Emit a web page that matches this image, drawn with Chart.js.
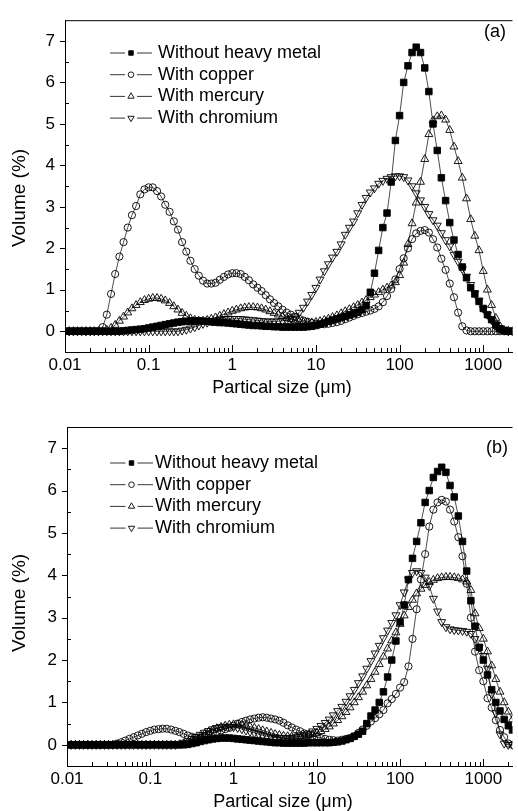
<!DOCTYPE html>
<html>
<head>
<meta charset="utf-8">
<script src="https://cdn.jsdelivr.net/npm/chart.js"></script>
<style>
  html, body { margin: 0; padding: 0; background: #fff; }
  canvas { display: block; }
</style>
</head>
<body>
<canvas id="panelA" width="518" height="405"></canvas>
<canvas id="panelB" width="518" height="406"></canvas>
<script>
// particle size classes (um), shared by every series
const sizes = [
  0.01, 0.0112, 0.0126, 0.0141, 0.0158, 0.0178, 0.02, 0.0224, 0.0251, 0.0282,
  0.0316, 0.0355, 0.0398, 0.0447, 0.0501, 0.0562, 0.0631, 0.0708, 0.0794, 0.0891,
  0.1, 0.112, 0.126, 0.141, 0.158, 0.178, 0.2, 0.224, 0.251, 0.282,
  0.316, 0.355, 0.398, 0.447, 0.501, 0.562, 0.631, 0.708, 0.794, 0.891,
  1, 1.12, 1.26, 1.41, 1.58, 1.78, 2, 2.24, 2.51, 2.82,
  3.16, 3.55, 3.98, 4.47, 5.01, 5.62, 6.31, 7.08, 7.94, 8.91,
  10, 11.2, 12.6, 14.1, 15.8, 17.8, 20, 22.4, 25.1, 28.2,
  31.6, 35.5, 39.8, 44.7, 50.1, 56.2, 63.1, 70.8, 79.4, 89.1,
  100, 112, 126, 141, 158, 178, 200, 224, 251, 282,
  316, 355, 398, 447, 501, 562, 631, 708, 794, 891,
  1000, 1122, 1259, 1413, 1585, 1778, 1995, 2239
];

const seriesNames = ['Without heavy metal', 'With copper', 'With mercury', 'With chromium'];

// panel (a)
const aWithout = [
  0, 0, 0, 0, 0, 0, 0, 0, 0, 0,
  0, 0, 0, 0, 0.01, 0.02, 0.03, 0.04, 0.05, 0.06,
  0.08, 0.1, 0.12, 0.14, 0.16, 0.18, 0.2, 0.22, 0.23, 0.24,
  0.25, 0.25, 0.25, 0.24, 0.24, 0.23, 0.22, 0.21, 0.21, 0.2,
  0.19, 0.18, 0.17, 0.16, 0.15, 0.14, 0.14, 0.13, 0.12, 0.12,
  0.11, 0.11, 0.1, 0.1, 0.1, 0.1, 0.1, 0.1, 0.11, 0.12,
  0.14, 0.17, 0.2, 0.24, 0.27, 0.3, 0.33, 0.36, 0.39, 0.42,
  0.46, 0.52, 0.62, 0.94, 1.4, 1.95, 2.5, 2.85, 3.6, 4.6,
  5.2, 6.0, 6.4, 6.72, 6.85, 6.72, 6.35, 5.78, 5.0, 4.36,
  3.7, 3.15, 2.62, 2.2, 1.85, 1.55, 1.29, 1.05, 0.9, 0.72,
  0.55, 0.4, 0.28, 0.15, 0.06, 0.02, 0, 0
];
const aCopper = [
  0, 0, 0, 0, 0, 0, 0, 0, 0, 0.1,
  0.4, 0.9, 1.38, 1.8, 2.15, 2.5, 2.8, 3.02, 3.3, 3.42,
  3.47, 3.47, 3.38, 3.25, 3.05, 2.88, 2.65, 2.45, 2.15, 1.92,
  1.7, 1.5, 1.34, 1.22, 1.15, 1.15, 1.17, 1.24, 1.31, 1.37,
  1.4, 1.4, 1.38, 1.31, 1.23, 1.13, 1.05, 0.97, 0.87, 0.77,
  0.68, 0.6, 0.52, 0.45, 0.4, 0.35, 0.3, 0.26, 0.23, 0.2,
  0.18, 0.17, 0.17, 0.18, 0.2, 0.22, 0.25, 0.29, 0.33, 0.37,
  0.41, 0.44, 0.47, 0.5, 0.54, 0.6, 0.7, 0.85, 1.02, 1.25,
  1.5, 1.76, 2.0, 2.22, 2.36, 2.42, 2.44, 2.38, 2.22, 2.02,
  1.75, 1.48, 1.15, 0.82, 0.45, 0.12, 0.02, 0, 0, 0,
  0, 0, 0, 0, 0, 0, 0, 0
];
const aMercury = [
  0, 0, 0, 0, 0, 0, 0, 0, 0, 0,
  0.03, 0.08, 0.15, 0.25, 0.35, 0.45, 0.55, 0.63, 0.7, 0.75,
  0.78, 0.8, 0.8, 0.78, 0.74, 0.68, 0.6, 0.52, 0.44, 0.37,
  0.31, 0.27, 0.25, 0.25, 0.27, 0.3, 0.33, 0.37, 0.41, 0.45,
  0.49, 0.52, 0.55, 0.57, 0.58, 0.58, 0.57, 0.55, 0.52, 0.48,
  0.44, 0.4, 0.36, 0.32, 0.29, 0.26, 0.24, 0.22, 0.21, 0.21,
  0.22, 0.24, 0.27, 0.3, 0.34, 0.38, 0.43, 0.48, 0.53, 0.58,
  0.63, 0.69, 0.75, 0.82, 0.88, 0.94, 1.0, 1.05, 1.1, 1.18,
  1.35, 1.65, 2.1, 2.6, 3.1, 3.6, 4.15, 4.75, 5.08, 5.18,
  5.2, 5.1, 4.85, 4.45, 4.1, 3.7, 3.2, 2.7, 2.3, 1.95,
  1.45, 1.0, 0.63, 0.32, 0.12, 0.03, 0.01, 0
];
const aChromium = [
  0, 0, 0, 0, 0, 0, 0, 0, 0, 0,
  0, 0, 0, 0, 0, 0, 0, 0, 0, 0,
  0, 0, 0, 0, 0, 0, 0, 0, 0.02, 0.04,
  0.07, 0.1, 0.14, 0.18, 0.21, 0.24, 0.26, 0.28, 0.29, 0.3,
  0.3, 0.3, 0.3, 0.29, 0.28, 0.27, 0.26, 0.25, 0.24, 0.24,
  0.24, 0.24, 0.25, 0.27, 0.3, 0.36, 0.45, 0.57, 0.72, 0.88,
  1.05, 1.25, 1.45, 1.62, 1.78, 1.92, 2.1, 2.33, 2.5, 2.65,
  2.85, 3.05, 3.22, 3.35, 3.45, 3.56, 3.63, 3.68, 3.72, 3.74,
  3.74, 3.72, 3.64, 3.5, 3.33, 3.16, 3.0, 2.83, 2.68, 2.55,
  2.37, 2.2, 2.05, 1.85, 1.68, 1.5, 1.32, 1.12, 0.92, 0.74,
  0.55, 0.4, 0.27, 0.14, 0.05, 0.02, 0, 0
];

// panel (b)
const bWithout = [
  0, 0, 0, 0, 0, 0, 0, 0, 0, 0,
  0, 0, 0, 0, 0, 0, 0, 0, 0, 0,
  0, 0, 0, 0, 0, 0, 0, 0, 0, 0.01,
  0.03, 0.05, 0.08, 0.1, 0.12, 0.14, 0.15, 0.16, 0.16, 0.16,
  0.15, 0.14, 0.13, 0.12, 0.11, 0.1, 0.09, 0.08, 0.07, 0.06,
  0.05, 0.05, 0.04, 0.04, 0.04, 0.04, 0.04, 0.04, 0.05, 0.05,
  0.05, 0.05, 0.05, 0.05, 0.06, 0.07, 0.09, 0.12, 0.15, 0.2,
  0.25, 0.32, 0.5, 0.68, 0.82, 1.0, 1.25, 1.6, 2.0, 2.45,
  2.9, 3.3, 3.9, 4.4, 4.8, 5.24, 5.72, 6.0, 6.31, 6.45,
  6.55, 6.43, 6.12, 5.85, 5.4, 4.8, 4.1, 3.4, 2.8, 2.3,
  2.0, 1.65, 1.3, 1.0, 0.8, 0.6, 0.45, 0.35
];
const bCopper = [
  0, 0, 0, 0, 0, 0, 0, 0, 0, 0,
  0, 0, 0.03, 0.06, 0.1, 0.14, 0.18, 0.22, 0.26, 0.3,
  0.33, 0.36, 0.37, 0.38, 0.38, 0.36, 0.33, 0.3, 0.26, 0.22,
  0.19, 0.17, 0.17, 0.2, 0.23, 0.27, 0.3, 0.34, 0.37, 0.4,
  0.45, 0.5, 0.54, 0.57, 0.6, 0.62, 0.64, 0.65, 0.64, 0.62,
  0.6, 0.57, 0.52, 0.46, 0.41, 0.36, 0.32, 0.27, 0.23, 0.21,
  0.18, 0.16, 0.14, 0.12, 0.11, 0.1, 0.12, 0.14, 0.16, 0.2,
  0.28, 0.36, 0.45, 0.55, 0.63, 0.72, 0.82, 0.98, 1.08, 1.2,
  1.35, 1.48, 1.85, 2.5, 3.2, 3.9, 4.5, 5.15, 5.55, 5.72,
  5.78, 5.74, 5.55, 5.27, 4.9, 4.45, 3.8, 3.0, 2.2, 1.76,
  1.5, 1.1, 0.88, 0.58, 0.35, 0.18, 0.03, 0
];
const bMercury = [
  0, 0, 0, 0, 0, 0, 0, 0, 0, 0,
  0, 0, 0, 0, 0, 0, 0, 0, 0, 0,
  0, 0, 0, 0, 0, 0, 0, 0.01, 0.03, 0.06,
  0.1, 0.15, 0.2, 0.25, 0.3, 0.35, 0.39, 0.42, 0.45, 0.47,
  0.48, 0.48, 0.47, 0.45, 0.43, 0.4, 0.37, 0.34, 0.31, 0.28,
  0.25, 0.23, 0.21, 0.2, 0.19, 0.19, 0.2, 0.21, 0.23, 0.25,
  0.28, 0.32, 0.37, 0.43, 0.5, 0.58, 0.67, 0.77, 0.88, 1.0,
  1.12, 1.25, 1.4, 1.55, 1.72, 1.9, 2.08, 2.27, 2.46, 2.65,
  2.85, 3.05, 3.25, 3.42, 3.57, 3.68, 3.77, 3.84, 3.89, 3.93,
  3.95, 3.96, 3.96, 3.95, 3.93, 3.9, 3.85, 3.65, 3.1, 2.75,
  2.5, 2.2, 1.87, 1.55, 1.25, 1.0, 0.78, 0.6
];
const bChromium = [
  0, 0, 0, 0, 0, 0, 0, 0, 0, 0,
  0, 0, 0, 0, 0, 0, 0, 0, 0, 0,
  0, 0, 0, 0, 0, 0, 0, 0.02, 0.05, 0.09,
  0.14, 0.19, 0.24, 0.29, 0.33, 0.37, 0.4, 0.42, 0.43, 0.43,
  0.42, 0.4, 0.37, 0.34, 0.31, 0.28, 0.25, 0.22, 0.2, 0.18,
  0.17, 0.16, 0.16, 0.16, 0.17, 0.18, 0.2, 0.23, 0.27, 0.32,
  0.38, 0.45, 0.52, 0.6, 0.7, 0.8, 0.9, 1.02, 1.15, 1.3,
  1.46, 1.62, 1.8, 1.98, 2.16, 2.34, 2.52, 2.7, 2.88, 3.06,
  3.3, 3.6, 3.9, 4.06, 4.1, 4.06, 3.95, 3.75, 3.45, 3.15,
  2.9, 2.78, 2.73, 2.71, 2.7, 2.69, 2.67, 2.62, 2.5, 2.3,
  2.1, 1.8, 1.2, 0.75, 0.25, 0.03, 0, 0
];

const xTickValues = [0.01, 0.1, 1, 10, 100, 1000];
const xTickLabels = ['0.01', '0.1', '1', '10', '100', '1000'];
const yTickValues = [0, 1, 2, 3, 4, 5, 6, 7];
const yTickLabels = ['0', '1', '2', '3', '4', '5', '6', '7'];

const FONT = "'Liberation Sans', Arial, sans-serif";
const X_MIN = 0.01, X_MAX = 2239;

const markers = [
  { pointStyle: 'rect', radius: 4.6, fill: '#000', rotation: 0, legendRadius: 3.2 },
  { pointStyle: 'circle', radius: 3.6, fill: 'rgba(0,0,0,0)', rotation: 0, legendRadius: 2.8 },
  { pointStyle: 'triangle', radius: 4.6, fill: 'rgba(0,0,0,0)', rotation: 0, legendRadius: 3.6 },
  { pointStyle: 'triangle', radius: 4.6, fill: 'rgba(0,0,0,0)', rotation: 180, legendRadius: 3.6 }
];

function xTicks() {
  const out = [];
  xTickValues.forEach(d => {
    out.push({ value: d, major: true });
    for (let m = 2; m <= 9; m++) {
      if (d * m <= X_MAX) out.push({ value: d * m, major: false });
    }
  });
  return out;
}

function yTicks() {
  const out = [{ value: -0.5, major: false }];
  yTickValues.forEach(v => {
    out.push({ value: v, major: true });
    out.push({ value: v + 0.5, major: false });
  });
  return out;
}

// frame, inward/outward ticks, legend and texts
const framePlugin = {
  id: 'frame',
  afterDraw(chart, args, o) {
    const ctx = chart.ctx, a = chart.chartArea;
    const xs = chart.scales.x, ys = chart.scales.y;
    ctx.save();
    ctx.strokeStyle = '#000';
    ctx.lineWidth = 1;
    ctx.beginPath();
    ctx.moveTo(a.left, a.top + 0.5);
    ctx.lineTo(a.right, a.top + 0.5);
    xs.ticks.forEach(t => {
      const px = Math.round(xs.getPixelForValue(t.value)) + 0.5;
      const len = t.major ? 7 : 4;
      ctx.moveTo(px, a.bottom);
      ctx.lineTo(px, a.bottom - len);
    });
    ys.ticks.forEach(t => {
      if (t.value < 0 || t.value > 7.2) return;
      const py = Math.round(ys.getPixelForValue(t.value)) + 0.5;
      ctx.moveTo(a.left, py);
      ctx.lineTo(t.major ? a.left - 5 : a.left + 4, py);
    });
    ctx.stroke();

    // legend: short line, marker, short line, label
    ctx.font = '18px ' + FONT;
    ctx.textBaseline = 'middle';
    ctx.textAlign = 'left';
    chart.data.datasets.forEach((ds, i) => {
      const y = o.legendTop + i * 21.7;
      const m = markers[i];
      const mid = (o.legendX0 + o.legendX1) / 2;
      ctx.lineWidth = 0.8;
      ctx.beginPath();
      ctx.moveTo(o.legendX0, y);
      ctx.lineTo(mid - 6, y);
      ctx.moveTo(mid + 6, y);
      ctx.lineTo(o.legendX1, y);
      ctx.stroke();
      ctx.fillStyle = m.fill;
      ctx.lineWidth = 0.9;
      Chart.helpers.drawPoint(ctx, {
        pointStyle: m.pointStyle, radius: m.legendRadius, rotation: m.rotation, borderWidth: 0.9
      }, mid, y);
      ctx.fillStyle = '#000';
      ctx.fillText(ds.label, o.legendText, y);
    });

    // panel letter
    ctx.textAlign = 'center';
    ctx.fillText(o.letter, o.letterX, o.letterY);

    // axis titles
    ctx.font = '18px ' + FONT;
    ctx.fillText('Partical size (\u03bcm)', o.xTitleX, o.xTitleY);
    ctx.translate(o.yTitleX, o.yTitleY);
    ctx.rotate(-Math.PI / 2);
    ctx.font = '19px ' + FONT;
    ctx.fillText('Volume (%)', 0, 0);
    ctx.restore();
  }
};

function makePanel(id, series, g) {
  const datasets = series.map((vals, i) => ({
    label: seriesNames[i],
    data: sizes.map((s, k) => ({ x: s, y: vals[k] })),
    borderColor: '#000',
    borderWidth: 0.7,
    pointStyle: markers[i].pointStyle,
    pointRotation: markers[i].rotation,
    pointRadius: markers[i].radius,
    pointBackgroundColor: markers[i].fill,
    pointBorderColor: '#000',
    pointBorderWidth: 0.9,
    tension: 0
  }));
  return new Chart(document.getElementById(id).getContext('2d'), {
    type: 'line',
    data: { datasets },
    plugins: [framePlugin],
    options: {
      responsive: false,
      animation: false,
      events: [],
      layout: { padding: { left: 0, top: g.top, right: 0, bottom: 0 } },
      scales: {
        x: {
          type: 'logarithmic',
          min: X_MIN,
          max: X_MAX,
          afterBuildTicks: s => { s.ticks = xTicks(); },
          afterFit: s => { s.height = g.xHeight; },
          grid: { display: true, drawOnChartArea: false, drawTicks: false },
          border: { display: true, color: '#000', width: 1 },
          ticks: {
            autoSkip: false,
            maxRotation: 0,
            padding: 3,
            color: '#000',
            font: { family: FONT, size: 17 },
            callback: v => {
              const i = xTickValues.indexOf(v);
              return i >= 0 ? xTickLabels[i] : '';
            }
          }
        },
        y: {
          type: 'linear',
          min: -0.5,
          max: 7.5,
          afterBuildTicks: s => { s.ticks = yTicks(); },
          afterFit: s => { s.width = g.yWidth; },
          grid: { display: true, drawOnChartArea: false, drawTicks: false },
          border: { display: true, color: '#000', width: 1 },
          ticks: {
            autoSkip: false,
            padding: 10,
            color: '#000',
            font: { family: FONT, size: 17 },
            callback: v => {
              const i = yTickValues.indexOf(v);
              return i >= 0 ? yTickLabels[i] : '';
            }
          }
        }
      },
      plugins: {
        legend: { display: false },
        tooltip: { enabled: false },
        frame: g.frame
      }
    }
  });
}

makePanel('panelA', [aWithout, aCopper, aMercury, aChromium], {
  top: 12, xHeight: 53, yWidth: 65,
  frame: {
    legendTop: 53, legendX0: 110, legendX1: 152, legendText: 158,
    letter: '(a)', letterX: 495, letterY: 32,
    xTitleX: 282, xTitleY: 388, yTitleX: 20, yTitleY: 198
  }
});
makePanel('panelB', [bWithout, bCopper, bMercury, bChromium], {
  top: 22, xHeight: 45, yWidth: 67,
  frame: {
    legendTop: 58, legendX0: 110, legendX1: 153, legendText: 155,
    letter: '(b)', letterX: 497, letterY: 43,
    xTitleX: 283, xTitleY: 397, yTitleX: 20, yTitleY: 198
  }
});
</script>
</body>
</html>
